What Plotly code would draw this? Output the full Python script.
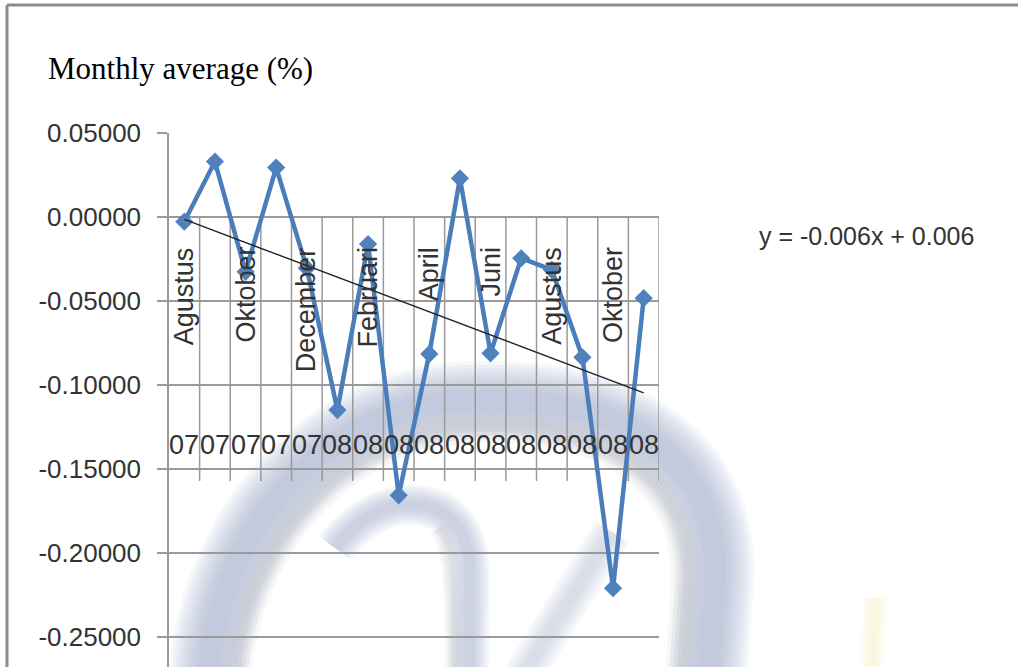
import numpy as np
import plotly.graph_objects as go

# ---- data -------------------------------------------------------------
months = ["Agustus", "September", "Oktober", "November", "December",
          "Januari", "Februari", "Maret", "April", "Mei", "Juni", "Juli",
          "Agustus", "September", "Oktober", "November"]
years = ["07", "07", "07", "07", "07",
         "08", "08", "08", "08", "08", "08", "08", "08", "08", "08", "08"]
monthly_avg = [-0.0028, 0.0330, -0.0327, 0.0294, -0.0305, -0.1150, -0.0161,
               -0.1658, -0.0816, 0.0230, -0.0812, -0.0246, -0.0315, -0.0836,
               -0.2211, -0.0484]
y_ticks = [0.05, 0.0, -0.05, -0.10, -0.15, -0.20, -0.25]
y_tick_text = ["0.05000", "0.00000", "-0.05000", "-0.10000",
               "-0.15000", "-0.20000", "-0.25000"]
trend_label = "y = -0.006x + 0.006"
title_text = "Monthly average (%)"

# ---- page geometry (pixels) ------------------------------------------
W, H = 1018, 667
PLOT_L, PLOT_R, PLOT_T = 169, 659, 133
Y_TOP, Y_BOT = 0.05, -0.26805
GRID = "#9a9a9a"
TEXT = "#333333"
SANS = "Liberation Sans, Arial, sans-serif"


def px(x, y):
    """pixel position -> paper fraction"""
    return x / W, 1 - y / H


def path(cmds):
    out = []
    for op, pts in cmds:
        coords = " ".join("%.5f,%.5f" % px(*p) for p in pts)
        out.append(op + " " + coords)
    return " ".join(out)


x_idx = np.arange(len(monthly_avg))

# linear trend over the month number 1..n
coef = np.polyfit(x_idx + 1, monthly_avg, 1)
trend = np.polyval(coef, x_idx + 1)

fig = go.Figure()

fig.add_trace(go.Scatter(
    x=x_idx, y=monthly_avg, mode="lines+markers",
    line=dict(color="#4A7EBB", width=4.5),
    marker=dict(symbol="diamond", size=14, color="#4F81BD"),
    showlegend=False, hoverinfo="skip"))

fig.add_trace(go.Scatter(
    x=x_idx, y=trend, mode="lines",
    line=dict(color="#222222", width=1.4),
    showlegend=False, hoverinfo="skip"))

shapes = []


# faint background logo: soft strokes built from stacked translucent lines
def soft_stroke(cmds, rgb, w_max, w_min, layers, opacity):
    d = path(cmds)
    for i in range(layers):
        w = w_max - (w_max - w_min) * i / (layers - 1)
        shapes.append(dict(type="path", xref="paper", yref="paper", path=d,
                           line=dict(color="rgb(%d,%d,%d)" % rgb, width=w),
                           opacity=opacity, layer="below"))


big_arc = [("M", [(208, 680)]),
           ("C", [(215, 540), (320, 400), (480, 400)]),
           ("C", [(640, 398), (720, 470), (715, 580)]),
           ("L", [(708, 680)])]
big_arc_shadow = [("M", [(236, 680)]),
                  ("C", [(244, 555), (335, 432), (480, 428)]),
                  ("C", [(615, 425), (690, 485), (686, 585)]),
                  ("L", [(680, 680)])]
hook = [("M", [(335, 548)]),
        ("C", [(360, 515), (390, 503), (415, 505)]),
        ("C", [(452, 508), (470, 532), (470, 578)]),
        ("L", [(469, 680)])]
hook_shadow = [("M", [(438, 528)]),
               ("C", [(452, 545), (454, 585), (454, 680)])]
diagonal = [("M", [(520, 680)]), ("L", [(612, 532)])]
yellow = [("M", [(875, 598)]), ("L", [(872, 680)])]

LOGO_BLUE = (158, 170, 202)
LOGO_GREY = (168, 168, 174)
soft_stroke(big_arc, LOGO_BLUE, 78, 22, 9, 0.09)
soft_stroke(big_arc_shadow, LOGO_GREY, 30, 8, 4, 0.08)
soft_stroke(hook, LOGO_BLUE, 40, 10, 7, 0.09)
soft_stroke(hook_shadow, LOGO_GREY, 18, 6, 3, 0.09)
soft_stroke(diagonal, LOGO_BLUE, 40, 10, 7, 0.06)
soft_stroke(yellow, (245, 220, 120), 24, 6, 4, 0.06)

# outer frame of the figure box
fx, fy = px(7, 5)
shapes.append(dict(type="line", xref="paper", yref="paper",
                   x0=fx, y0=fy, x1=1, y1=fy,
                   line=dict(color="#8c8c8c", width=3)))
shapes.append(dict(type="line", xref="paper", yref="paper",
                   x0=fx, y0=fy, x1=fx, y1=0,
                   line=dict(color="#8c8c8c", width=3)))

# category dividers hanging below the zero line
sep_bottom = -(481 - 217) / 1679.0
for k in range(1, len(monthly_avg) + 1):
    shapes.append(dict(type="line", xref="x", yref="y",
                       x0=k - 0.5, x1=k - 0.5, y0=0, y1=sep_bottom,
                       line=dict(color=GRID, width=1.5), layer="below"))

annotations = []

# month names (every second category), rotated
month_top = -(245 - 217) / 1679.0
for i in range(0, len(months), 2):
    annotations.append(dict(x=i, y=month_top, xref="x", yref="y",
                            text=months[i], textangle=-90, showarrow=False,
                            xanchor="center", yanchor="top",
                            font=dict(family=SANS, size=27, color=TEXT)))

# year row
year_y = -(445 - 217) / 1679.0
for i, yr in enumerate(years):
    annotations.append(dict(x=i, y=year_y, xref="x", yref="y", text=yr,
                            showarrow=False, xanchor="center", yanchor="middle",
                            font=dict(family=SANS, size=27, color=TEXT)))

# trend equation
ex, ey = px(757, 236)
annotations.append(dict(x=ex, y=ey, xref="paper", yref="paper",
                        text=trend_label, showarrow=False,
                        xanchor="left", yanchor="middle",
                        font=dict(family=SANS, size=25, color=TEXT)))

# title
tx, ty = px(46, 69)
annotations.append(dict(x=tx, y=ty, xref="paper", yref="paper",
                        text=title_text, showarrow=False,
                        xanchor="left", yanchor="middle",
                        font=dict(family="Liberation Serif, Times New Roman, serif",
                                  size=31, color="#000000")))

fig.update_layout(
    width=W, height=H,
    margin=dict(l=0, r=0, t=0, b=0, pad=0, autoexpand=False),
    paper_bgcolor="white",
    plot_bgcolor="rgba(0,0,0,0)",
    shapes=shapes,
    annotations=annotations,
    xaxis=dict(domain=[PLOT_L / W, PLOT_R / W], range=[-0.5, len(monthly_avg) - 0.5],
               showgrid=False, zeroline=False, showline=False,
               showticklabels=False, ticks="", automargin=False),
    yaxis=dict(domain=[0, 1 - PLOT_T / H], range=[Y_BOT, Y_TOP],
               tickvals=y_ticks, ticktext=y_tick_text,
               showgrid=True, gridcolor=GRID, gridwidth=1.5,
               zeroline=False, showline=True, linecolor=GRID, linewidth=1.5,
               ticks="outside", ticklen=10, tickcolor=GRID, tickwidth=1.5,
               ticklabelstandoff=11, automargin=False,
               tickfont=dict(family=SANS, size=26, color=TEXT)),
)

fig.write_html("out.html")
